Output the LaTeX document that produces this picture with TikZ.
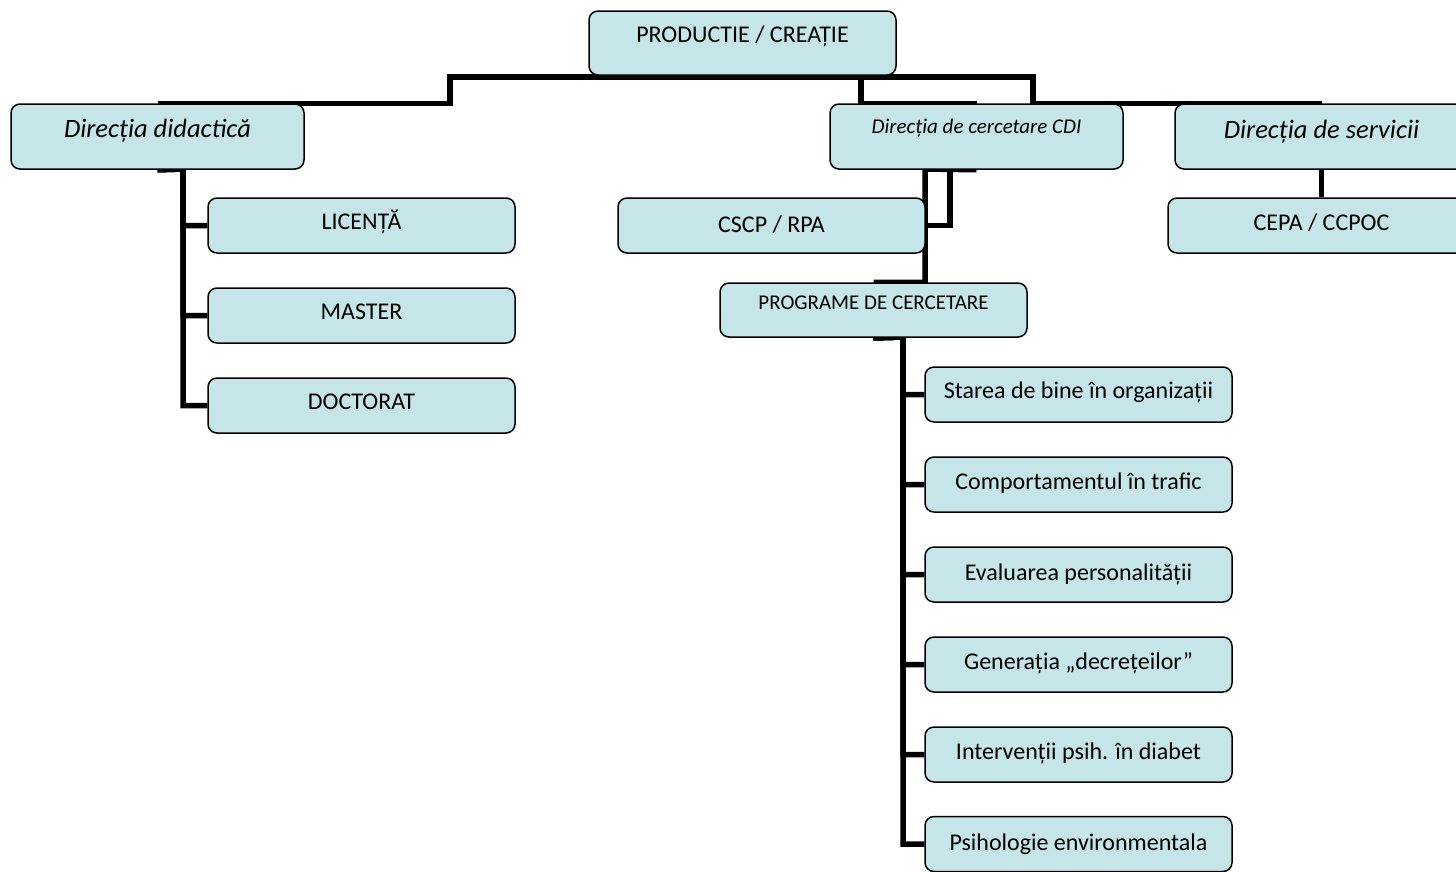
\documentclass[tikz,border=0pt]{standalone}
\usepackage{fontspec}
\setmainfont{Carlito}
\usetikzlibrary{backgrounds}
\definecolor{boxfill}{RGB}{197,229,232}

\begin{document}
\begin{tikzpicture}[x=1pt,y=-1pt]
  \tikzset{
    unit/.style={
      draw=black,
      fill=boxfill,
      line width=1.5pt,
      rounded corners=9pt,
      inner sep=0pt,
      minimum width=293pt,
      text height=33pt,
      text depth=32pt,
      font=\fontsize{26.5}{30}\selectfont\itshape
    },
    subunit/.style={
      draw=black,
      fill=boxfill,
      line width=1.5pt,
      rounded corners=9pt,
      inner sep=0pt,
      minimum width=307pt,
      text height=31pt,
      text depth=24pt,
      font=\fontsize{24}{28}\selectfont
    },
    link/.style={
      draw=black,
      line width=5.5pt
    }
  }
  \useasboundingbox (0,0) rectangle (1456,871);

  % Top of the chart and the three directions
  \node[subunit, text depth=33pt] (prod) at (742.5,43) {PRODUCTIE / CREAȚIE};
  \node[unit] (did) at (157.5,136.5) {Direcția didactică};
  \node[unit, text height=29pt, text depth=36pt, font=\fontsize{21}{25}\selectfont\itshape] (cdi) at (976.5,136.5) {Direcția de cercetare CDI};
  \node[unit, text height=34pt, text depth=31pt] (serv) at (1321.5,136.5) {Direcția de servicii};

  % Study levels
  \node[subunit] (lic) at (361.5,225.5) {LICENȚĂ};
  \node[subunit] (mas) at (361.5,315.5) {MASTER};
  \node[subunit] (doc) at (361.5,405.5) {DOCTORAT};

  % Research and services units
  \node[subunit, text height=34pt, text depth=21pt] (cscp) at (771.5,225.5) {CSCP / RPA};
  \node[subunit, text height=32pt, text depth=23pt] (cepa) at (1321.5,225.5) {CEPA / CCPOC};
  \node[subunit, text height=26pt, text depth=28pt, font=\fontsize{21}{25}\selectfont] (prog) at (873.5,310) {PROGRAME DE CERCETARE};

  % Research programmes
  \node[subunit] (p1) at (1078.5,394.5) {Starea de bine în organizații};
  \node[subunit, text height=32pt, text depth=23pt] (p2) at (1078.5,484.5) {Comportamentul în trafic};
  \node[subunit, text height=33pt, text depth=22pt] (p3) at (1078.5,574.5) {Evaluarea personalității};
  \node[subunit, text height=32pt, text depth=23pt] (p4) at (1078.5,664.5) {Generația „decrețeilor”};
  \node[subunit, text height=32pt, text depth=23pt] (p5) at (1078.5,754.5) {Intervenții psih. în diabet};
  \node[subunit, text height=34pt, text depth=21pt] (p6) at (1078.5,844) {Psihologie environmentala};

  % Bus and trunk points of the connectors
  \coordinate (busL) at (450,77);
  \coordinate (busM) at (861,77);
  \coordinate (busR) at (1033,77);
  \coordinate (didtrunk) at (183,169);
  \coordinate (cditrunk) at (925,169);
  \coordinate (cdiknee) at (950,169);
  \coordinate (progtrunk) at (903,337);

  % Connectors, kept behind the boxes
  \begin{scope}[on background layer]
    \draw[link] (did.north) -| (busL) -- (busR) |- (serv.north);
    \draw[link] (busM) |- (cdi.north);
    \draw[link] (serv.south) -- (cepa.north);

    \draw[link] (did.south) -- (didtrunk) |- (lic.west);
    \draw[link] (did.south) -- (didtrunk) |- (mas.west);
    \draw[link] (did.south) -- (didtrunk) |- (doc.west);

    \draw[link] (cdi.south) -- (cditrunk) |- (prog.north);
    \draw[link] (cdiknee) |- (cscp.east);

    \draw[link] (prog.south) -- (progtrunk) |- (p1.west);
    \draw[link] (prog.south) -- (progtrunk) |- (p2.west);
    \draw[link] (prog.south) -- (progtrunk) |- (p3.west);
    \draw[link] (prog.south) -- (progtrunk) |- (p4.west);
    \draw[link] (prog.south) -- (progtrunk) |- (p5.west);
    \draw[link] (prog.south) -- (progtrunk) |- (p6.west);
  \end{scope}
\end{tikzpicture}
\end{document}
